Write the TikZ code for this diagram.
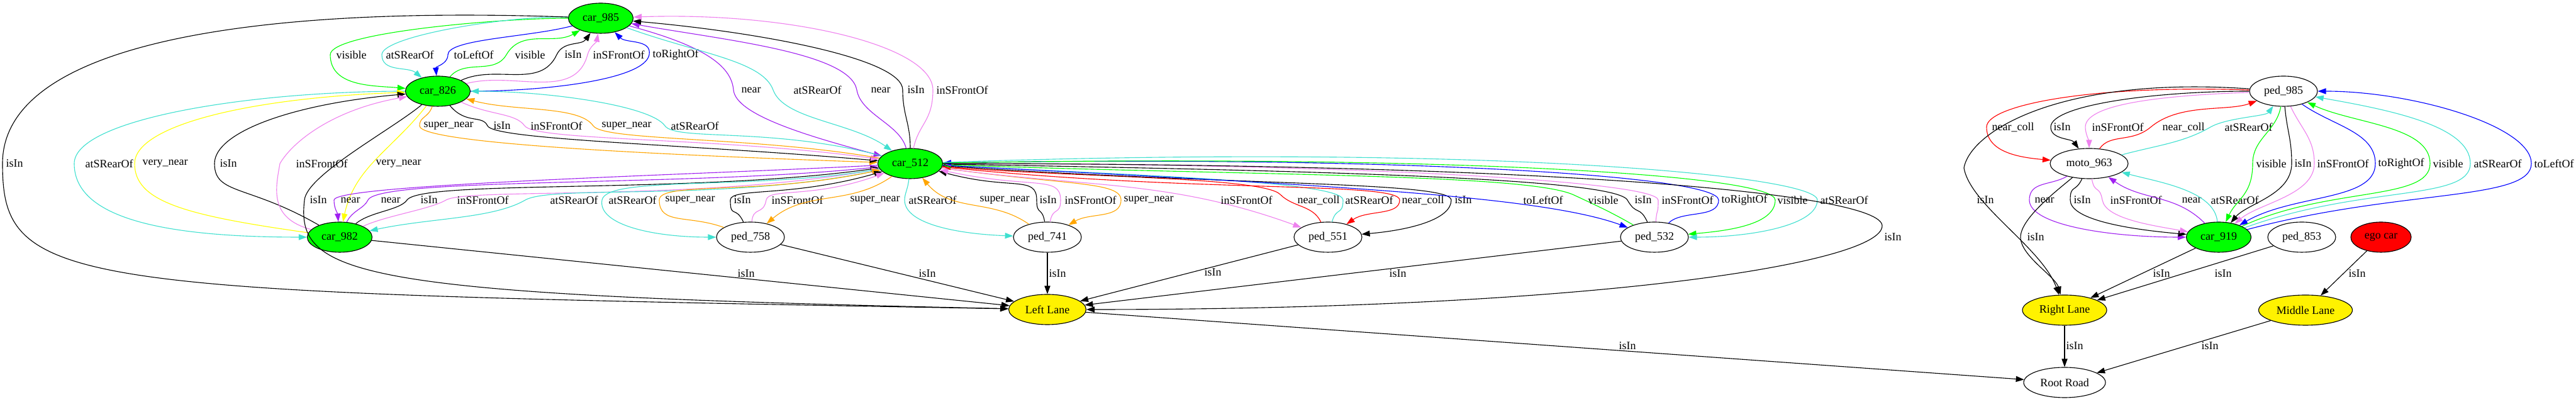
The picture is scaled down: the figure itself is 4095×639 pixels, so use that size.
\documentclass[tikz,border=0pt]{standalone}
\usepackage{fontspec}
\setmainfont{Liberation Serif}
\usetikzlibrary{arrows.meta,shapes.geometric}
\definecolor{gvgreen}{HTML}{00FF00}
\definecolor{gvturq}{HTML}{40E0D0}
\definecolor{gvviolet}{HTML}{EE82EE}
\definecolor{gvpurple}{HTML}{A020F0}
\definecolor{gvorange}{HTML}{FFA500}
\definecolor{gvyellow}{HTML}{FFFF00}
\newcommand{\lblfont}{\fontsize{4.5}{5}\selectfont}
\begin{document}
\begin{tikzpicture}[x=0.25pt,y=0.25pt,
	obj/.style={ellipse, draw, line width=0.28pt, minimum height=12pt, inner sep=0pt, font=\lblfont},
	car/.style={obj, fill=gvgreen, minimum width=25.75pt},
	ped/.style={obj, minimum width=27pt},
	lane/.style={obj, fill=yellow, minimum width=#1},
	rel/.style={-{Triangle[length=3.25pt,width=2.3pt]}, line width=0.28pt},
	lbl/.style={font=\lblfont, text=black, anchor=west, inner sep=0.25pt},
	dist/.style 2 args={out distance=#1*0.25pt, in distance=#2*0.25pt}]
	\useasboundingbox (0,0) rectangle (4095,639);
	% objects
	\node[car] (car985) at (955,610) {car\_985};
	\node[car] (car826) at (696,494) {car\_826};
	\node[ped] (ped985) at (3630,494) {ped\_985};
	\node[car] (car512) at (1447,379) {car\_512};
	\node[ped, minimum width=31pt] (moto963) at (3321,379) {moto\_963};
	\node[car] (car982) at (540,262) {car\_982};
	\node[ped] (ped758) at (1193,262) {ped\_758};
	\node[ped] (ped741) at (1665,262) {ped\_741};
	\node[ped] (ped551) at (2111,262) {ped\_551};
	\node[ped] (ped532) at (2630,262) {ped\_532};
	\node[car] (car919) at (3527,262) {car\_919};
	\node[ped] (ped853) at (3659,262) {ped\_853};
	\node[obj, fill=red, minimum width=24pt] (ego) at (3785,262) {ego car};
	\node[lane=30.75pt] (leftlane) at (1665,147) {Left Lane};
	\node[lane=33.5pt] (rightlane) at (3282,146) {Right Lane};
	\node[lane=37.25pt] (midlane) at (3665,146) {Middle Lane};
	\node[obj, minimum width=32.5pt] (root) at (3282,31) {Root Road};
	% car_985 <-> car_826
	\draw[rel,gvgreen] (car985) to[out=180,in=90,dist={110}{35}] (525,552) node[lbl,at={(533,552)}] {visible} to[out=-90,in=175] (car826);
	\draw[rel,gvturq] (car985) to[out=178,in=90,dist={90}{30}] (607,552) node[lbl,at={(612,552)}] {atSRearOf} to[out=-90,in=140] (car826);
	\draw[rel,blue] (car985) to[out=195,in=90,dist={70}{25}] (712,552) node[lbl,at={(720,552)}] {toLeftOf} to[out=-90,in=95] (car826);
	\draw[rel,gvgreen] (car826) to[out=50,in=-120] (805,552) node[lbl,at={(817,552)}] {visible} to[out=60,in=-150] (car985);
	\draw[rel] (car826) to[out=25,in=-115] (885,552) node[lbl,at={(896,552)}] {isIn} to[out=65,in=-125] (car985);
	\draw[rel,gvviolet] (car826) to[out=15,in=-105] (934,552) node[lbl,at={(941,552)}] {inSFrontOf} to[out=75,in=-100] (car985);
	\draw[rel,blue] (car826) to[out=0,in=-100,dist={120}{40}] (1032,552) node[lbl,at={(1036,552)}] {toRightOf} to[out=80,in=-45] (car985);
	% car_985 <-> car_512
	\draw[rel,gvpurple] (car985) to[out=-15,in=95,dist={120}{40}] (1166,496) node[lbl,at={(1177,496)}] {near} to[out=-85,in=165,dist={40}{120}] (car512);
	\draw[rel,gvturq] (car985) to[out=-20,in=110,dist={120}{50}] (1229,496) node[lbl,at={(1260,496)}] {atSRearOf} to[out=-70,in=145,dist={50}{80}] (car512);
	\draw[rel,gvpurple] (car512) to[out=105,in=-80,dist={40}{40}] (1362,496) node[lbl,at={(1383,496)}] {near} to[out=100,in=-10,dist={60}{150}] (car985);
	\draw[rel] (car512) to[out=90,in=-90,dist={40}{40}] (1435,496) node[lbl,at={(1441,496)}] {isIn} to[out=90,in=-5,dist={50}{200}] (car985);
	\draw[rel,gvviolet] (car512) to[out=78,in=-90,dist={40}{50}] (1483,496) node[lbl,at={(1487,496)}] {inSFrontOf} to[out=90,in=2,dist={70}{250}] (car985);
	% car_826 <-> car_512
	\draw[rel,gvorange] (car826) to[out=-110,in=90,dist={20}{15}] (667,439) node[lbl,at={(672,439)}] {super\_near} to[out=-90,in=178,dist={30}{300}] (car512);
	\draw[rel] (car826) to[out=-50,in=115,dist={40}{20}] (775,439) node[lbl,at={(783,439)}] {isIn} to[out=-65,in=175,dist={25}{300}] (car512);
	\draw[rel,gvviolet] (car826) to[out=-25,in=125,dist={50}{25}] (834,439) node[lbl,at={(842,439)}] {inSFrontOf} to[out=-55,in=172,dist={30}{250}] (car512);
	\draw[rel,gvorange] (car512) to[out=170,in=-55,dist={200}{30}] (943,439) node[lbl,at={(955,439)}] {super\_near} to[out=125,in=-15,dist={40}{80}] (car826);
	\draw[rel,gvturq] (car512) to[out=165,in=-55,dist={180}{30}] (1057,439) node[lbl,at={(1065,439)}] {atSRearOf} to[out=125,in=0,dist={40}{120}] (car826);
	% car_826 <-> car_982
	\draw[rel,gvturq] (car826) to[out=180,in=90,dist={250}{70}] (118,379) node[lbl,at={(134,379)}] {atSRearOf} to[out=-90,in=180,dist={80}{250}] (car982);
	\draw[rel,gvyellow] (car982) to[out=172,in=-90,dist={200}{60}] (214,379) node[lbl,at={(225,379)}] {very\_near} to[out=90,in=-178,dist={60}{250}] (car826);
	\draw[rel] (car982) to[out=150,in=-90,dist={130}{50}] (341,379) node[lbl,at={(348,379)}] {isIn} to[out=90,in=-175,dist={50}{180}] (car826);
	\draw[rel,gvviolet] (car982) to[out=165,in=-100,dist={70}{40}] (445,379) node[lbl,at={(469,379)}] {inSFrontOf} to[out=60,in=-170,dist={40}{120}] (car826);
	\draw[rel,gvyellow] (car826) to[out=-128,in=78] (car982) node[lbl,at={(596,379)}] {very\_near};
	% isIn to Left Lane, long ones
	\draw[rel] (car826) to[out=-140,in=85,dist={60}{40}] (484,321) node[lbl,at={(491,321)}] {isIn} .. controls (470,200) and (560,170) .. (leftlane);
	\draw[rel] (car985) .. controls (400,630) and (4,570) .. (4,379) node[lbl,at={(8,379)}] {isIn} .. controls (4,180) and (100,175) .. (leftlane);
	% car_512 <-> car_982
	\draw[rel,gvpurple] (car512) to[out=183,in=90,dist={300}{25}] (531,321) node[lbl,at={(540,321)}] {near} to[out=-90,in=95] (car982);
	\draw[rel,gvpurple] (car982) to[out=65,in=-115,dist={20}{15}] (585,321) node[lbl,at={(604,321)}] {near} to[out=65,in=186,dist={40}{300}] (car512);
	\draw[rel] (car982) to[out=40,in=-125,dist={30}{20}] (647,321) node[lbl,at={(667,321)}] {isIn} to[out=55,in=188,dist={40}{300}] (car512);
	\draw[rel,gvviolet] (car982) to[out=25,in=-150,dist={40}{30}] (709,321) node[lbl,at={(725,321)}] {inSFrontOf} to[out=30,in=190,dist={40}{300}] (car512);
	\draw[rel,gvturq] (car512) to[out=192,in=30,dist={250}{50}] (835,321) node[lbl,at={(873,321)}] {atSRearOf} to[out=210,in=12,dist={60}{100}] (car982);
	% car_512 <-> ped_758
	\draw[rel,gvturq] (car512) to[out=190,in=80,dist={200}{40}] (957,321) node[lbl,at={(966,321)}] {atSRearOf} to[out=-100,in=180,dist={40}{100}] (ped758);
	\draw[rel,gvorange] (ped758) to[out=160,in=-90,dist={60}{40}] (1048,321) node[lbl,at={(1056,321)}] {super\_near} to[out=90,in=192,dist={30}{200}] (car512);
	\draw[rel] (ped758) to[out=115,in=-90,dist={30}{30}] (1161,321) node[lbl,at={(1165,321)}] {isIn} to[out=90,in=196,dist={20}{150}] (car512);
	\draw[rel,gvviolet] (ped758) to[out=85,in=-100,dist={25}{25}] (1218,321) node[lbl,at={(1225,321)}] {inSFrontOf} to[out=80,in=200,dist={20}{120}] (car512);
	\draw[rel,gvorange] (car512) to[out=215,in=40] (ped758) node[lbl,at={(1350,321)}] {super\_near};
	% car_512 <-> ped_741
	\draw[rel,gvturq] (car512) to[out=-95,in=90,dist={15}{10}] (1438,321) node[lbl,at={(1443,321)}] {atSRearOf} to[out=-90,in=178,dist={40}{80}] (ped741);
	\draw[rel,gvorange] (ped741) to[out=145,in=-50] (car512) node[lbl,at={(1556,321)}] {super\_near};
	\draw[rel] (ped741) to[out=100,in=-90,dist={25}{25}] (1648,321) node[lbl,at={(1651,321)}] {isIn} to[out=90,in=-15,dist={40}{120}] (car512);
	\draw[rel,gvviolet] (ped741) to[out=80,in=-90,dist={25}{25}] (1686,321) node[lbl,at={(1691,321)}] {inSFrontOf} to[out=90,in=-12,dist={40}{150}] (car512);
	\draw[rel,gvorange] (car512) to[out=-8,in=90,dist={200}{30}] (1782,321) node[lbl,at={(1785,321)}] {super\_near} to[out=-90,in=30,dist={30}{40}] (ped741);
	% car_512 <-> ped_551
	\draw[rel,gvviolet] (car512) to[out=-8,in=160] (ped551) node[lbl,at={(1939,321)}] {inSFrontOf};
	\draw[rel,red] (ped551) to[out=115,in=-45,dist={30}{30}] (2035,330) node[lbl,at={(2061,321)}] {near\_coll} to[out=135,in=-5,dist={40}{200}] (car512);
	\draw[rel,gvturq] (ped551) to[out=75,in=-90,dist={25}{25}] (2135,321) node[lbl,at={(2137,321)}] {atSRearOf} to[out=90,in=-3,dist={30}{300}] (car512);
	\draw[rel,red] (car512) to[out=-6,in=90,dist={400}{30}] (2225,321) node[lbl,at={(2227,321)}] {near\_coll} to[out=-90,in=35,dist={25}{40}] (ped551);
	\draw[rel] (car512) to[out=-4,in=90,dist={450}{30}] (2307,321) node[lbl,at={(2311,321)}] {isIn} to[out=-90,in=5,dist={30}{80}] (ped551);
	% car_512 <-> ped_532
	\draw[rel,blue] (car512) to[out=-3,in=160,dist={600}{150}] (ped532) node[lbl,at={(2420,321)}] {toLeftOf};
	\draw[rel,gvgreen] (ped532) to[out=150,in=-25,dist={40}{40}] (2502,329) node[lbl,at={(2523,321)}] {visible} to[out=155,in=-2,dist={80}{500}] (car512);
	\draw[rel] (ped532) to[out=115,in=-60,dist={30}{30}] (2587,321) node[lbl,at={(2597,321)}] {isIn} to[out=120,in=-1,dist={40}{600}] (car512);
	\draw[rel,gvviolet] (ped532) to[out=85,in=-90,dist={25}{25}] (2636,321) node[lbl,at={(2640,321)}] {inSFrontOf} to[out=95,in=0,dist={30}{650}] (car512);
	\draw[rel,blue] (ped532) to[out=45,in=-90,dist={30}{30}] (2732,321) node[lbl,at={(2735,321)}] {toRightOf} to[out=90,in=1,dist={40}{700}] (car512);
	\draw[rel,gvgreen] (car512) to[out=1,in=90,dist={800}{40}] (2822,321) node[lbl,at={(2824,321)}] {visible} to[out=-90,in=5,dist={40}{60}] (ped532);
	\draw[rel,gvturq] (car512) to[out=2,in=90,dist={850}{40}] (2889,321) node[lbl,at={(2892,321)}] {atSRearOf} to[out=-90,in=0,dist={40}{100}] (ped532);
	\draw[rel] (car512) to[out=0,in=90,dist={1000}{50}] (2992,280) node[lbl,at={(2994,262)}] {isIn} to[out=-90,in=0,dist={60}{800}] (leftlane);
	% into Left Lane and Root Road
	\draw[rel] (car982) -- (leftlane) node[lbl,at={(1171,204)}] {isIn};
	\draw[rel] (ped758) -- (leftlane) node[lbl,at={(1459,204)}] {isIn};
	\draw[rel] (ped741) -- (leftlane) node[lbl,at={(1666,204)}] {isIn};
	\draw[rel] (ped551) -- (leftlane) node[lbl,at={(1913,206)}] {isIn};
	\draw[rel] (ped532) -- (leftlane) node[lbl,at={(2207,204)}] {isIn};
	\draw[rel] (leftlane) -- (root) node[lbl,at={(2572,89)}] {isIn};
	% ped_985 <-> moto_963
	\draw[rel,red] (ped985) to[out=178,in=90,dist={250}{35}] (3158,437) node[lbl,at={(3165,437)}] {near\_coll} to[out=-90,in=175,dist={40}{50}] (moto963);
	\draw[rel] (ped985) to[out=180,in=90,dist={150}{35}] (3260,437) node[lbl,at={(3263,437)}] {isIn} to[out=-90,in=125,dist={20}{20}] (moto963);
	\draw[rel,gvviolet] (ped985) to[out=182,in=90,dist={150}{35}] (3315,437) node[lbl,at={(3324,437)}] {inSFrontOf} to[out=-90,in=90,dist={10}{10}] (moto963);
	\draw[rel,red] (moto963) to[out=55,in=-140,dist={30}{40}] (3419,437) node[lbl,at={(3436,437)}] {near\_coll} to[out=40,in=-160,dist={60}{50}] (ped985);
	\draw[rel,gvturq] (moto963) to[out=15,in=-150,dist={60}{50}] (3514,437) node[lbl,at={(3535,437)}] {atSRearOf} to[out=30,in=-125,dist={30}{20}] (ped985);
	\draw[rel] (ped985) to[out=176,in=80,dist={300}{60}] (3122,372) node[lbl,at={(3141,321)}] {isIn} to[out=-80,in=110,dist={60}{80}] (rightlane);
	% moto_963 <-> car_919
	\draw[rel,gvpurple] (moto963) to[out=-150,in=90,dist={30}{30}] (3226,321) node[lbl,at={(3233,321)}] {near} to[out=-90,in=180,dist={40}{120}] (car919);
	\draw[rel] (moto963) to[out=-115,in=90,dist={25}{25}] (3291,321) node[lbl,at={(3295,321)}] {isIn} to[out=-90,in=175,dist={30}{100}] (car919);
	\draw[rel,gvviolet] (moto963) to[out=-80,in=100,dist={25}{25}] (3342,321) node[lbl,at={(3353,321)}] {inSFrontOf} to[out=-80,in=170,dist={30}{60}] (car919);
	\draw[rel,gvpurple] (car919) to[out=135,in=-35] (moto963) node[lbl,at={(3467,321)}] {near};
	\draw[rel,gvturq] (car919) to[out=95,in=-15,dist={50}{60}] (moto963) node[lbl,at={(3513,321)}] {atSRearOf};
	\draw[rel] (moto963) to[out=-140,in=90,dist={30}{30}] (3212,262) node[lbl,at={(3221,262)}] {isIn} to[out=-90,in=105,dist={30}{30}] (rightlane);
	% ped_985 <-> car_919
	\draw[rel,gvgreen] (ped985) to[out=-100,in=90,dist={40}{40}] (3581,379) node[lbl,at={(3585,379)}] {visible} to[out=-90,in=65,dist={50}{40}] (car919);
	\draw[rel] (ped985) to[out=-85,in=90,dist={40}{40}] (3643,379) node[lbl,at={(3646,379)}] {isIn} to[out=-90,in=50,dist={50}{40}] (car919);
	\draw[rel,gvviolet] (ped985) to[out=-65,in=90,dist={40}{40}] (3679,379) node[lbl,at={(3682,379)}] {inSFrontOf} to[out=-90,in=40,dist={50}{50}] (car919);
	\draw[rel,blue] (ped985) to[out=-35,in=90,dist={60}{50}] (3776,379) node[lbl,at={(3779,379)}] {toRightOf} to[out=-90,in=30,dist={60}{100}] (car919);
	\draw[rel,gvgreen] (car919) to[out=25,in=-90,dist={150}{60}] (3863,379) node[lbl,at={(3866,379)}] {visible} to[out=90,in=-25,dist={60}{80}] (ped985);
	\draw[rel,gvturq] (car919) to[out=20,in=-90,dist={200}{60}] (3927,379) node[lbl,at={(3931,379)}] {atSRearOf} to[out=90,in=-10,dist={60}{120}] (ped985);
	\draw[rel,blue] (car919) to[out=15,in=-90,dist={250}{60}] (4024,379) node[lbl,at={(4027,379)}] {toLeftOf} to[out=90,in=0,dist={60}{150}] (ped985);
	% lanes and road
	\draw[rel] (car919) -- (rightlane) node[lbl,at={(3421,204)}] {isIn};
	\draw[rel] (ped853) -- (rightlane) node[lbl,at={(3519,204)}] {isIn};
	\draw[rel] (ego) -- (midlane) node[lbl,at={(3732,204)}] {isIn};
	\draw[rel] (rightlane) -- (root) node[lbl,at={(3283,89)}] {isIn};
	\draw[rel] (midlane) -- (root) node[lbl,at={(3498,89)}] {isIn};
\end{tikzpicture}
\end{document}
